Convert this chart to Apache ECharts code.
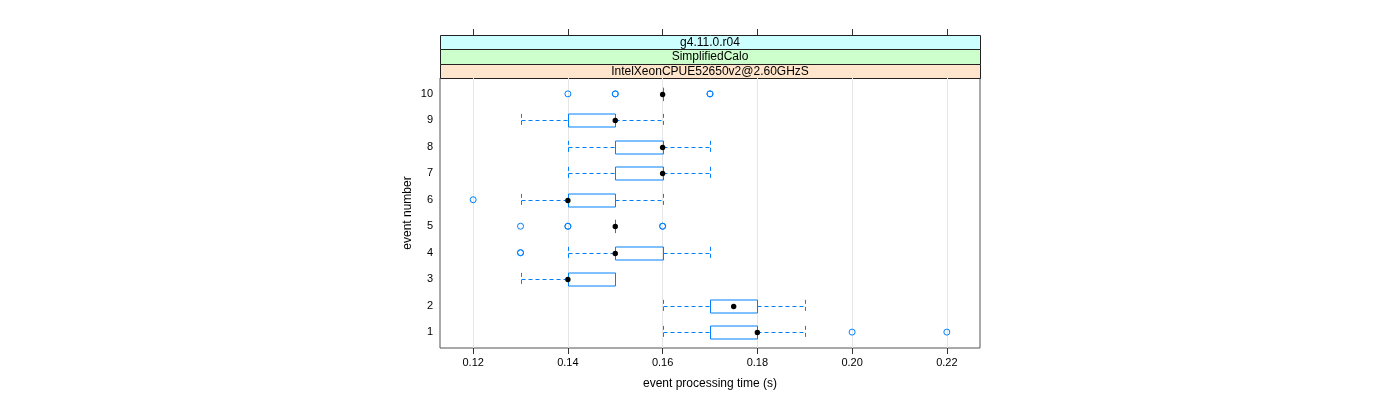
<!DOCTYPE html>
<html><head><meta charset="utf-8">
<script src="https://cdn.jsdelivr.net/npm/echarts@6/dist/echarts.min.js"></script>
<style>html,body{margin:0;padding:0;background:#fff}#c{width:1400px;height:400px}</style>
</head><body><div id="c"></div>
<script>
// ---- data ----
const events      = [1, 2, 3, 4, 5, 6, 7, 8, 9, 10];
const whiskerLow  = [0.16, 0.16, 0.13, 0.14, 0.15, 0.13, 0.14, 0.14, 0.13, 0.16];
const q1          = [0.17, 0.17, 0.14, 0.15, 0.15, 0.14, 0.15, 0.15, 0.14, 0.16];
const median      = [0.18, 0.175, 0.14, 0.15, 0.15, 0.14, 0.16, 0.16, 0.15, 0.16];
const q3          = [0.18, 0.18, 0.15, 0.16, 0.15, 0.15, 0.16, 0.16, 0.15, 0.16];
const whiskerHigh = [0.19, 0.19, 0.15, 0.17, 0.15, 0.16, 0.17, 0.17, 0.16, 0.16];
const outlierEvent = [1, 1, 4, 4, 5, 5, 5, 5, 5, 6, 10, 10, 10, 10, 10];
const outlierTime  = [0.20, 0.22, 0.13, 0.13, 0.13, 0.14, 0.14, 0.16, 0.16, 0.12, 0.14, 0.15, 0.15, 0.17, 0.17];
const xTicks = [0.12, 0.14, 0.16, 0.18, 0.20, 0.22];
const yTicks = [1, 2, 3, 4, 5, 6, 7, 8, 9, 10];
const stripLabels = ['g4.11.0.r04', 'SimplifiedCalo', 'IntelXeonCPUE52650v2@2.60GHzS'];
const xTitle = 'event processing time (s)';
const yTitle = 'event number';

// ---- style ----
const BLUE = '#0080ff';
const FONT = '"Liberation Sans", Arial, sans-serif';
const stripColors = ['#ccffff', '#ccffcc', '#ffe5cc'];
const L = 440, R = 980, T = 78, B = 348;
const stripTop = 35;
const stripH = (T - stripTop) / 3;

const boxData = events.map((e, i) => [e, whiskerLow[i], q1[i], median[i], q3[i], whiskerHigh[i]]);
const outData = outlierTime.map((t, i) => [t, outlierEvent[i]]);

function px(v) { return Math.round(v) + 0.5; }

function renderItem(params, api) {
  const y = api.value(0);
  const lo = api.coord([api.value(1), y]);
  const a = api.coord([api.value(2), y]);
  const m = api.coord([api.value(3), y]);
  const b = api.coord([api.value(4), y]);
  const hi = api.coord([api.value(5), y]);
  const hh = api.size([0, 1])[1] * 0.25;
  const cy = px(lo[1]);
  const dashed = { stroke: BLUE, lineWidth: 1, lineDash: [4, 3], fill: null };
  const solid = { stroke: BLUE, lineWidth: 1, fill: null };
  const xa = px(a[0]), xb = px(b[0]), xl = px(lo[0]), xh = px(hi[0]);
  const children = [];
  if (xl < xa) children.push({ type: 'line', shape: { x1: xl, y1: cy, x2: xa, y2: cy }, style: dashed });
  if (xh > xb) children.push({ type: 'line', shape: { x1: xb, y1: cy, x2: xh, y2: cy }, style: dashed });
  children.push({ type: 'line', shape: { x1: xl, y1: cy - hh, x2: xl, y2: cy + hh }, style: dashed });
  children.push({ type: 'line', shape: { x1: xh, y1: cy - hh, x2: xh, y2: cy + hh }, style: dashed });
  if (xb > xa) {
    children.push({ type: 'rect', shape: { x: xa, y: Math.round(cy - hh), width: xb - xa, height: Math.round(2 * hh) }, style: solid });
  } else {
    children.push({ type: 'line', shape: { x1: xa, y1: cy - hh, x2: xa, y2: cy + hh }, style: solid });
  }
  children.push({ type: 'circle', shape: { cx: m[0], cy: cy, r: 2.7 }, style: { fill: '#000' } });
  return { type: 'group', children };
}

const chart = echarts.init(document.getElementById('c'), null, { renderer: 'canvas' });

const graphics = stripLabels.map((lab, i) => ({
  type: 'group',
  children: [
    { type: 'rect', shape: { x: L + 0.5, y: Math.round(stripTop + i * stripH) + 0.5, width: R - L, height: Math.round(stripTop + (i + 1) * stripH) - Math.round(stripTop + i * stripH) },
      style: { fill: stripColors[i], stroke: '#222', lineWidth: 1 } },
    { type: 'text', x: (L + R) / 2, y: stripTop + (i + 0.5) * stripH + 0.5,
      style: { text: lab, fill: '#000', font: '12px ' + FONT, align: 'center', verticalAlign: 'middle' } }
  ]
}));

chart.setOption({
  animation: false,
  backgroundColor: '#fff',
  textStyle: { fontFamily: FONT },
  grid: { left: L, right: 1400 - R, top: T, bottom: 400 - B, show: true, borderColor: '#555', borderWidth: 1, backgroundColor: 'transparent' },
  xAxis: [
    {
      type: 'value', position: 'bottom', min: 0.113, max: 0.227,
      name: xTitle, nameLocation: 'middle', nameGap: 30,
      nameTextStyle: { fontSize: 12, color: '#000', fontFamily: FONT },
      axisLine: { show: false },
      axisTick: { show: true, inside: false, length: 6, lineStyle: { color: '#333' }, customValues: xTicks },
      axisLabel: { show: true, margin: 9, fontSize: 11, color: '#000', fontFamily: FONT, customValues: xTicks,
        formatter: v => v.toFixed(2) },
      splitLine: { show: true, lineStyle: { color: '#e6e6e6', width: 1 } }
    },
    {
      type: 'value', position: 'top', offset: T - stripTop, min: 0.113, max: 0.227,
      axisLine: { show: false },
      axisTick: { show: true, inside: false, length: 6, lineStyle: { color: '#333' }, customValues: xTicks },
      axisLabel: { show: false, customValues: xTicks },
      splitLine: { show: false }
    }
  ],
  yAxis: {
    type: 'value', min: 0.4, max: 10.6,
    name: yTitle, nameLocation: 'middle', nameGap: 26, nameRotate: 90,
    nameTextStyle: { fontSize: 12, color: '#000', fontFamily: FONT },
    axisLine: { show: false },
    axisTick: { show: false, customValues: yTicks },
    axisLabel: { show: true, margin: 7, fontSize: 11, color: '#000', fontFamily: FONT, customValues: yTicks },
    splitLine: { show: false }
  },
  series: [
    { type: 'custom', renderItem: renderItem, data: boxData, xAxisIndex: 0, encode: { x: [1, 2, 3, 4, 5], y: 0 }, z: 3 },
    { type: 'scatter', data: outData, xAxisIndex: 0, symbol: 'circle', symbolSize: 6,
      itemStyle: { color: 'rgba(0,0,0,0)', borderColor: BLUE, borderWidth: 1, opacity: 1 }, z: 4 }
  ],
  graphic: graphics
});
</script>
</body></html>
